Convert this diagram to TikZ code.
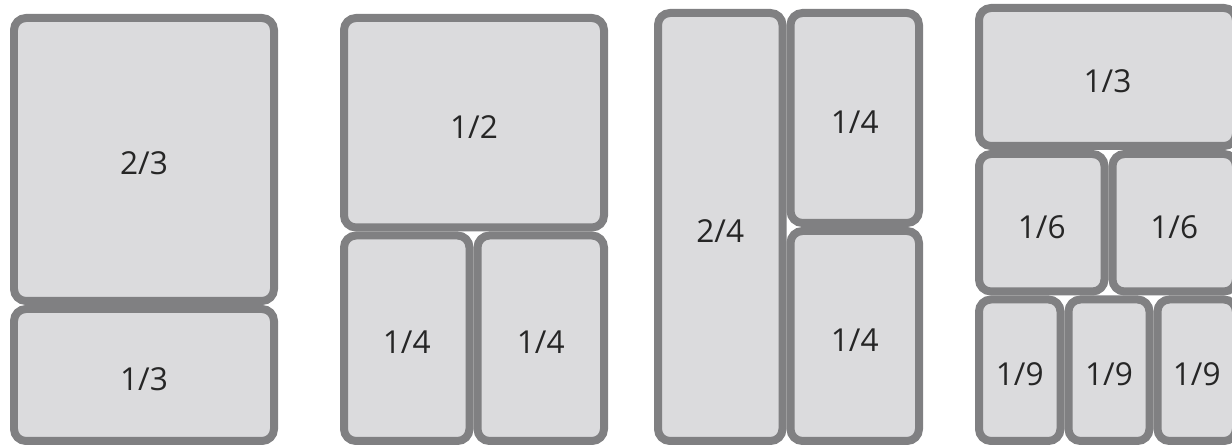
\documentclass[tikz,border=0pt]{standalone}
\usepackage{fontspec}
\setmainfont{Open Sans}
\usepackage{tikz}
\definecolor{cellgray}{HTML}{808082}
\definecolor{cellfill}{HTML}{DBDBDD}

\begin{document}
\begin{tikzpicture}[x=0.02cm, y=-0.02cm, font=\fontsize{18}{20}\selectfont,
  cell/.style 2 args={draw=cellgray, fill=cellfill, line width=0.16cm,
    rounded corners=0.24cm, inner sep=0pt, text=black!85,
    text height=0.62cm, text depth=0pt,
    minimum width=#1*0.02cm, minimum height=#2*0.02cm}]
\useasboundingbox (0,0) rectangle (1232,445);
\clip (0,0) rectangle (1232,445);

% two thirds / one third
\node[cell={260}{283}] (twothird) at (144,159.5) {2/3};
\node[cell={260}{132}] (third) at (144,375) {1/3};

% half and two quarters
\node[cell={260}{209.5}] (half) at (474,122.75) {1/2};
\node[cell={125.5}{205.5}] (quarterL) at (406.75,338.25) {1/4};
\node[cell={126.5}{205.5}] (quarterR) at (540.75,338.25) {1/4};

% tall half beside two quarters
\node[cell={124.5}{428}] (tall) at (720.25,227) {2/4};
\node[cell={128.5}{210}] (quarterT) at (854.75,118) {1/4};
\node[cell={128.5}{210}] (quarterB) at (854.75,336) {1/4};

% thirds, sixths, ninths
\node[cell={257}{138}] (topthird) at (1107.5,77) {1/3};
\node[cell={125.5}{137.5}] (sixthL) at (1041.75,222.75) {1/6};
\node[cell={123.5}{137.5}] (sixthR) at (1174.25,222.75) {1/6};
\node[cell={81.5}{141.5}] (ninthA) at (1019.75,370.25) {1/9};
\node[cell={81}{141.5}] (ninthB) at (1109,370.25) {1/9};
\node[cell={78.5}{141.5}] (ninthC) at (1196.75,370.25) {1/9};
\end{tikzpicture}
\end{document}
